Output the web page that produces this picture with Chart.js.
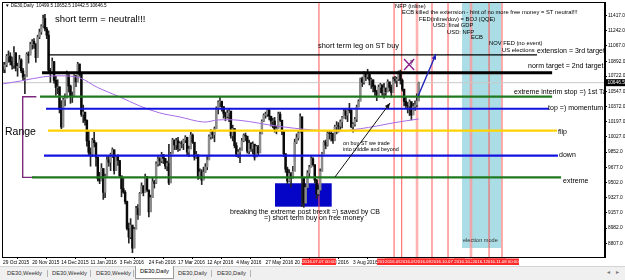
<!DOCTYPE html>
<html>
<head>
<meta charset="utf-8">
<title>DE30,Daily</title>
<script src="https://cdn.jsdelivr.net/npm/chart.js@4.4.1/dist/chart.umd.min.js"></script>
<style>
  html, body { margin: 0; padding: 0; background: #fff; }
  #wrap { position: relative; width: 625px; height: 280px; overflow: hidden; font-family: 'Liberation Sans', Arial, sans-serif; }
  #grafico { position: absolute; left: 0; top: 0; }
  #tabs { position: absolute; left: 0; top: 266px; width: 625px; height: 14px; background: #f0f0f0; border-top: 1px solid #d4d4d4; box-sizing: border-box; }
  .tab { position: absolute; top: 1px; height: 11px; line-height: 11px; font-size: 5.8px; color: #333; white-space: nowrap; }
  .tab.active { background: #fff; border: 1px solid #9a9a9a; border-top: none; top: -1px; height: 12px; padding: 0 4px; color: #000; }
  .sep { position: absolute; top: 3px; width: 1px; height: 7px; background: #b4b4b4; }
  .arrow { position: absolute; top: 1px; font-size: 6px; color: #777; }
</style>
</head>
<body>
<div id="wrap">
  <canvas id="grafico" width="625" height="266"></canvas>
  <div id="tabs"></div>
</div>
<script>
// DE30 daily, one value per trading day from 29 Oct 2015 (slot 0) to 22 Sep 2016 (slot 228)
const firstOpen = 10830;
const closes = [
  10800,10850,10951,10951,10887,10845,10988,10815,10832,10907,10782,10708,10713,10971,10960,11085,
  11119,11092,10933,11170,11226,11293,11382,11261,11190,10789,10752,10887,10673,10592,10598,10340,
  10139,10450,10469,10738,10608,10497,10488,10727,10653,10860,10743,10283,10310,10214,9979,9849,
  9825,9985,9960,9794,9545,9521,9664,9391,9574,9764,9736,9823,9880,9639,9798,9757,
  9581,9434,9393,9286,8979,8879,9017,8752,8967,9206,9135,9377,9463,9388,9573,9416,
  9167,9331,9513,9495,9717,9776,9751,9824,9778,9692,9723,9498,9831,9990,9933,9983,
  9892,9950,9948,9990,10022,9851,9887,10046,9965,9794,9822,9563,9624,9530,9622,9682,
  9761,10027,10093,10051,10120,10350,10421,10435,10373,10294,10260,10299,10322,10039,10123,9926,
  9828,9852,9870,9980,10045,10035,9862,9952,9890,9943,9795,9916,9842,10057,10205,10272,
  10286,10333,10263,10205,10208,10103,10121,10287,10217,10088,9834,9657,9519,9606,9550,9631,
  9962,10015,10071,10257,9557,9268,9447,9612,9680,9776,9709,9532,9373,9418,9629,9833,
  9964,9930,10068,10066,10063,9981,10142,10156,10147,10199,10247,10319,10275,10337,10330,10144,
  10170,10228,10367,10432,10693,10651,10752,10713,10740,10676,10679,10603,10544,10494,10593,10623,
  10529,10587,10544,10657,10593,10534,10684,10672,10687,10753,10675,10573,10432,10386,10379,10431,
  10276,10373,10394,10436,10646.5
];
const highs = [
  10880,10880,10970,11010,10990,10940,11060,10990,10870,10960,10920,10810,10740,10990,11000,11110,
  11140,11150,11090,11190,11260,11310,11420,11430,11280,11240,10810,10930,10890,10720,10680,10600,
  10440,10470,10520,10780,10700,10620,10540,10740,10730,10880,10860,10700,10390,10300,10220,10090,
  9900,10010,10080,9920,9790,9620,9720,9660,9600,9800,9810,9840,9900,9860,9810,9820,
  9740,9560,9560,9410,9290,9040,9090,8990,8990,9230,9250,9390,9500,9470,9600,9570,
  9420,9360,9560,9530,9740,9800,9790,9850,9810,9780,9750,9940,9850,10010,9990,10010,
  10020,9970,9980,10000,10040,9980,9920,10080,10060,9960,9860,9800,9660,9650,9680,9720,
  9800,10050,10110,10100,10140,10370,10440,10480,10420,10370,10310,10330,10350,10280,10160,10110,
  9960,9880,9900,10010,10060,10070,10020,9990,9960,9970,9920,9930,9930,10080,10220,10290,
  10310,10350,10350,10260,10240,10250,10150,10310,10310,10210,10080,9830,9680,9650,9620,9690,
  10000,10060,10100,10290,10230,9510,9480,9640,9700,9800,9790,9700,9540,9470,9660,9850,
  9980,9990,10090,10100,10090,10070,10160,10200,10190,10220,10260,10340,10340,10350,10410,10340,
  10190,10250,10390,10450,10700,10710,10770,10760,10800,10750,10700,10680,10620,10560,10620,10640,
  10600,10640,10580,10680,10640,10620,10710,10720,10710,10780,10790,10690,10530,10480,10420,10450,
  10400,10410,10440,10520,10652.5
];
const lows = [
  10760,10760,10830,10880,10850,10800,10810,10780,10720,10820,10760,10670,10520,10720,10870,10980,
  11030,11040,10880,10950,11150,11200,11280,11240,11150,10760,10650,10750,10640,10500,10520,10300,
  10120,10140,10380,10480,10540,10410,10420,10500,10600,10660,10720,10260,10190,10160,9920,9820,
  9690,9800,9910,9690,9520,9490,9530,9310,9330,9580,9690,9640,9790,9600,9650,9700,
  9560,9340,9380,9260,8960,8810,8860,8700,8760,8980,9080,9130,9380,9350,9400,9400,
  9110,9170,9330,9440,9490,9690,9700,9730,9720,9660,9640,9480,9520,9840,9880,9880,
  9860,9870,9900,9880,9960,9820,9800,9900,9950,9760,9780,9540,9550,9480,9540,9620,
  9650,9780,10000,10010,9970,10120,10290,10370,10320,10240,10210,10240,10200,10010,9980,9900,
  9800,9790,9730,9880,9970,9980,9840,9830,9860,9830,9760,9800,9820,9850,10090,10200,
  10240,10260,10220,10150,10130,10080,10060,10130,10200,10050,9800,9620,9490,9510,9450,9560,
  9740,9950,9990,10100,9230,9220,9280,9440,9560,9680,9690,9500,9320,9350,9410,9650,
  9830,9890,9920,10000,9980,9950,9990,10060,10080,10110,10130,10240,10230,10200,10300,10130,
  10080,10150,10200,10370,10450,10600,10630,10670,10690,10620,10580,10540,10500,10440,10490,10530,
  10500,10470,10500,10540,10550,10480,10540,10640,10600,10670,10630,10550,10380,10360,10300,10270,
  10220,10290,10330,10370,10442.5
];

// slow moving average, read at a few points along the purple line
const maSlots  = [0, 10, 22, 32, 42, 52, 64, 75, 86, 97, 110, 118, 130, 150, 170, 185, 196, 205, 215, 228];
const maValues = [10633, 10667, 10713, 10725, 10702, 10590, 10484, 10380, 10300, 10254, 10196, 10220, 10215, 10150, 10105, 10093, 10120, 10150, 10190, 10231];

// horizontal levels
const levelNames  = ['extension = 3rd target', 'norm target = 2nd target', 'extreme interim stop =) 1st Target', 'top =) momentum', 'flip', 'down', 'extreme'];
const levelValues = [10964, 10761, 10486, 10349, 10097, 9811, 9563];
const levelStart  = [24.7, 21.4, 20.3, 23.6, 24.7, 22.5, 15.9];
const levelEnd    = [292.9, 301.2, 301.2, 299.5, 303.9, 304.4, 306.1];
const currentPrice = 10646.5;

// event lines (slot of each vertical line) and their dates
const eventSlots = [173.3, 214.5, 218.7, 227.1, 235.3, 244.1, 256.7, 266.6, 273.7];
const eventDates = ['2016.07.07', '2016.09.02', '2016.09.08', '2016.09.21', '2016.09.29', '2016.10.07', '2016.10.20', '2016.11.02', '2016.11.08'];

// tick labels
const xTickSlots  = [0, 16, 32, 48, 64, 80, 96, 112, 128, 144, 160, 176, 192];
const xTickLabels = ['29 Oct 2015', '20 Nov 2015', '14 Dec 2015', '11 Jan 2016', '3 Feb 2016', '24 Feb 2016', '17 Mar 2016', '12 Apr 2016', '4 May 2016', '27 May 2016', '20 Jun 2016', '12 Jul 2016', '3 Aug 2016'];
const yTickValues = [11417, 11242, 11067, 10892, 10722, 10547, 10372, 10197, 10027, 9852, 9677, 9502, 9327, 9157, 8982, 8807];

const tabNames = ['DE30,Weekly', 'DE30,Weekly', 'DE30,Weekly', 'DE30,Daily', 'DE30,Daily', 'DE30,Daily'];

/* ------------ estilos ------------- */
const FONT = "'Liberation Sans', Arial, sans-serif";
const X_MIN = -0.55, X_MAX = 330.2, Y_MIN = 8651, Y_MAX = 11570;

const levelColors = ['#000', '#000', '#1f7a1f', '#1212e0', '#ffd200', '#1212e0', '#1f7a1f'];
const levelWidths = [1.3, 3, 2.2, 2, 2.2, 2.2, 2.2];
const wideEvents = [3, 6];

const zones = [
  { x0: 251.8, x1: 273.2, y0: 8754, y1: Y_MAX, color: '#aadde5' },
  { x0: 149.2, x1: 180.3, y0: 9227, y1: 9495, color: '#0505c8' },
];

const notes = [
  { text: 'short term = neutral!!!', slot: 28.5, price: 11376, size: 9.5 },
  { text: 'short term leg on ST buy', slot: 172.8, price: 11067, size: 7.4 },
  { text: 'on buy ST we trade', slot: 186.5, price: 9945, size: 5.4 },
  { text: 'into middle and beyond', slot: 186.5, price: 9876, size: 5.4 },
  { text: 'breaking the extreme post brexit =) saved by CB', slot: 124.5, price: 9166, size: 7 },
  { text: '=) short term buy on free money', slot: 143.2, price: 9092, size: 7 },
  { text: 'NFP (inline)', slot: 215, price: 11525, size: 5.8 },
  { text: 'ECB killed the extension - hint of no more free money = ST neutral!!!', slot: 218.9, price: 11456, size: 5.8 },
  { text: 'FED(inline/dov) = BOJ (QQE)', slot: 228.2, price: 11376, size: 5.8 },
  { text: 'USD: final GDP', slot: 235.9, price: 11301, size: 5.8 },
  { text: 'USD: NFP', slot: 243.6, price: 11221, size: 5.8 },
  { text: 'ECB', slot: 256.7, price: 11164, size: 5.8 },
  { text: 'NOV FED (no event)', slot: 266.6, price: 11095, size: 5.8 },
  { text: 'US elections', slot: 273.7, price: 11015, size: 5.8 },
  { text: 'election mode', slot: 252.3, price: 8845, size: 5.6, color: '#333' },
  { text: 'Range', slot: 1.1, price: 10082, size: 10.5 },
];
const levelLabelPos = [
  { slot: 292.9, price: 11003 }, { slot: 288, price: 10838 }, { slot: 280.3, price: 10540 },
  { slot: 299, price: 10351 }, { slot: 304.4, price: 10082 }, { slot: 305, price: 9819 }, { slot: 307.2, price: 9521 },
];
const arrows = [
  { from: [182.1, 9567], to: [212.3, 10414], color: '#111', width: 1 },
  { from: [227.7, 10494], to: [237.5, 10975], color: '#2323b8', width: 1.4 },
];

/* ------------ datasets ------------- */
const opens = closes.map((c, i) => i === 0 ? firstOpen : closes[i - 1]);
const wickData = closes.map((c, i) => ({ x: i, y: [lows[i], highs[i]] }));
const bodyData = closes.map((c, i) => ({ x: i, y: [opens[i], c] }));
const bodyColors = closes.map((c, i) => c >= opens[i] ? '#8c8c8c' : '#0a0a0a');

const levelSets = levelValues.map((v, i) => ({
  type: 'line',
  label: levelNames[i],
  data: [{ x: levelStart[i], y: v }, { x: levelEnd[i], y: v }],
  borderColor: levelColors[i],
  borderWidth: levelWidths[i],
  pointRadius: 0,
  order: 0,
}));

const px = (chart, s, p) => [chart.scales.x.getPixelForValue(s), chart.scales.y.getPixelForValue(p)];

const overlay = {
  id: 'overlay',
  beforeDatasetsDraw(chart) {
    const { ctx, chartArea: a, scales: { x, y } } = chart;
    ctx.save();
    ctx.beginPath(); ctx.rect(a.left, a.top, a.right - a.left, a.bottom - a.top); ctx.clip();
    zones.forEach(z => {
      const x0 = x.getPixelForValue(z.x0), x1 = x.getPixelForValue(z.x1);
      const y0 = y.getPixelForValue(z.y1), y1 = y.getPixelForValue(z.y0);
      ctx.fillStyle = z.color;
      ctx.fillRect(x0, y0, x1 - x0, y1 - y0);
    });
    eventSlots.forEach((s, i) => {
      const xp = x.getPixelForValue(s);
      const wide = wideEvents.includes(i);
      ctx.strokeStyle = wide ? 'rgba(255,150,150,0.75)' : '#ff5656';
      ctx.lineWidth = wide ? 2.6 : 1;
      ctx.beginPath(); ctx.moveTo(xp, a.top); ctx.lineTo(xp, a.bottom); ctx.stroke();
    });
    // grey current price line
    const yp = y.getPixelForValue(currentPrice);
    ctx.strokeStyle = '#c9c9c9'; ctx.lineWidth = 1;
    ctx.beginPath(); ctx.moveTo(a.left, yp); ctx.lineTo(a.right, yp); ctx.stroke();
    ctx.restore();
  },
  afterDatasetsDraw(chart) {
    const { ctx, chartArea: a } = chart;
    ctx.save();
    ctx.beginPath(); ctx.rect(a.left, a.top, a.right - a.left, a.bottom - a.top); ctx.clip();

    arrows.forEach(ar => {
      const [x0, y0] = px(chart, ar.from[0], ar.from[1]);
      const [x1, y1] = px(chart, ar.to[0], ar.to[1]);
      ctx.strokeStyle = ar.color; ctx.fillStyle = ar.color; ctx.lineWidth = ar.width;
      ctx.beginPath(); ctx.moveTo(x0, y0); ctx.lineTo(x1, y1); ctx.stroke();
      const ang = Math.atan2(y1 - y0, x1 - x0);
      ctx.beginPath();
      ctx.moveTo(x1, y1);
      ctx.lineTo(x1 - 6 * Math.cos(ang - 0.4), y1 - 6 * Math.sin(ang - 0.4));
      ctx.lineTo(x1 - 6 * Math.cos(ang + 0.4), y1 - 6 * Math.sin(ang + 0.4));
      ctx.closePath(); ctx.fill();
    });

    // purple cross with question mark
    const [cx0, cy0] = px(chart, 220, 10918);
    const [cx1, cy1] = px(chart, 225.5, 10792);
    ctx.strokeStyle = '#8a1a8a'; ctx.lineWidth = 1.3;
    ctx.beginPath();
    ctx.moveTo(cx0, cy0); ctx.lineTo(cx1, cy1);
    ctx.moveTo(cx1, cy0); ctx.lineTo(cx0, cy1);
    ctx.stroke();
    const [qx, qy] = px(chart, 223, 10875);
    ctx.fillStyle = '#552255'; ctx.font = `7px ${FONT}`;
    ctx.textBaseline = 'middle'; ctx.textAlign = 'left';
    ctx.fillText('?', qx, qy);

    notes.forEach(n => {
      const [xp, yp] = px(chart, n.slot, n.price);
      ctx.fillStyle = n.color || '#000';
      ctx.font = `${n.size}px ${FONT}`;
      ctx.fillText(n.text, xp, yp);
    });
    levelNames.forEach((name, i) => {
      const [xp, yp] = px(chart, levelLabelPos[i].slot, levelLabelPos[i].price);
      ctx.fillStyle = '#000';
      ctx.font = `7px ${FONT}`;
      ctx.fillText(name, xp, yp);
    });

    // header
    ctx.font = `4.6px ${FONT}`;
    ctx.fillStyle = '#000';
    ctx.fillText('\u25BC DE30,Daily  10499.5 10652.5 10442.5 10646.5', a.left + 3, a.top + 3.5);
    ctx.restore();
  },
  afterDraw(chart) {
    const { ctx, chartArea: a, scales: { x, y } } = chart;
    ctx.save();
    // border
    ctx.strokeStyle = '#000'; ctx.lineWidth = 1;
    ctx.strokeRect(a.left + 0.5, a.top + 0.5, a.right - a.left - 1, a.bottom - a.top);
    // red date boxes on the time axis
    ctx.font = `4.3px ${FONT}`;
    ctx.textAlign = 'center'; ctx.textBaseline = 'middle';
    eventSlots.forEach((s, i) => {
      const xp = x.getPixelForValue(s);
      ctx.fillStyle = '#ff2a2a';
      ctx.fillRect(xp - 17, a.bottom + 1.5, 34, 6.5);
      ctx.fillStyle = '#fff';
      ctx.fillText(eventDates[i] + ' 00:00', xp, a.bottom + 5);
    });
    // current price tag
    const yp = y.getPixelForValue(currentPrice);
    ctx.fillStyle = '#000';
    ctx.fillRect(a.right + 1, yp - 3.5, 20, 7);
    ctx.fillStyle = '#fff';
    ctx.font = `4.8px ${FONT}`;
    ctx.textAlign = 'left';
    ctx.fillText(currentPrice.toFixed(1), a.right + 2.5, yp + 0.3);
    ctx.restore();
  },
};

const grafico = new Chart(document.getElementById('grafico'), {
  type: 'bar',
  data: {
    datasets: [
      ...levelSets,
      {
        type: 'line', label: 'Range',
        data: [{ x: 18.3, y: 10486 }, { x: 10.8, y: 10486 }, { x: 10.8, y: 9563 }, { x: 18.3, y: 9563 }],
        borderColor: '#7d2a7d', borderWidth: 1.4, pointRadius: 0, order: 0,
      },
      {
        type: 'line', label: 'MA',
        data: maSlots.map((s, i) => ({ x: s, y: maValues[i] })),
        borderColor: '#a86ce8', borderWidth: 1, pointRadius: 0, tension: 0.35, order: 1,
      },
      { label: 'bodies', data: bodyData, backgroundColor: bodyColors, barThickness: 1.8, grouped: false, order: 2 },
      { label: 'wicks', data: wickData, backgroundColor: '#262626', barThickness: 1, grouped: false, order: 3 },
    ],
  },
  options: {
    responsive: false,
    animation: false,
    layout: { padding: { left: 2, top: 2, right: 0, bottom: 0 } },
    plugins: { legend: { display: false }, tooltip: { enabled: false } },
    scales: {
      x: {
        type: 'linear', min: X_MIN, max: X_MAX, offset: false,
        afterBuildTicks: (s) => { s.ticks = xTickSlots.map(v => ({ value: v })); },
        afterFit: (s) => { s.height = 9; s.paddingLeft = 0; s.paddingRight = 0; },
        ticks: {
          autoSkip: false, maxRotation: 0, align: 'start', padding: 0.5,
          color: '#000', font: { family: FONT, size: 4.8 },
          callback: (v, i) => xTickLabels[i],
        },
        grid: { drawOnChartArea: false, drawTicks: true, tickLength: 2, color: '#000' },
        border: { display: true, color: '#000' },
      },
      y: {
        type: 'linear', position: 'right', min: Y_MIN, max: Y_MAX,
        afterBuildTicks: (s) => { s.ticks = yTickValues.map(v => ({ value: v })); },
        afterFit: (s) => { s.width = 20; s.paddingTop = 0; s.paddingBottom = 0; },
        ticks: {
          autoSkip: false, padding: 1, color: '#000', font: { family: FONT, size: 4.8 },
          callback: (v) => Number(v).toFixed(1),
        },
        grid: { drawOnChartArea: false, drawTicks: true, tickLength: 2, color: '#000' },
        border: { display: true, color: '#000' },
      },
    },
  },
  plugins: [overlay],
});

/* ------------ pestañas ------------- */
const tabStarts = [7, 52, 96, 135, 178, 217];
const sepStarts = [47, 90, 133, 211, 250];
const tabsEl = document.getElementById('tabs');
tabNames.forEach((name, i) => {
  const t = document.createElement('div');
  t.className = 'tab' + (i === 3 ? ' active' : '');
  t.style.left = tabStarts[i] + 'px';
  t.textContent = name;
  tabsEl.appendChild(t);
});
sepStarts.forEach(l => {
  const s = document.createElement('div');
  s.className = 'sep'; s.style.left = l + 'px';
  tabsEl.appendChild(s);
});
['\u25C2', '\u25B8'].forEach((c, i) => {
  const a = document.createElement('div');
  a.className = 'arrow'; a.style.left = (607 + i * 9) + 'px';
  a.textContent = c;
  tabsEl.appendChild(a);
});
</script>
</body>
</html>
